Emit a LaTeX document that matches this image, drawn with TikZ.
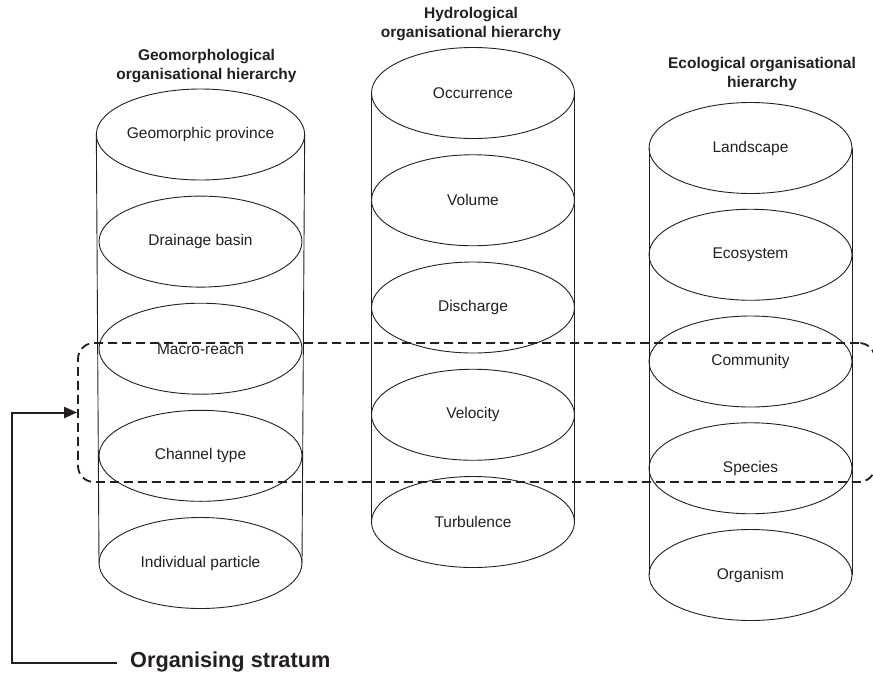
\documentclass[tikz,border=0pt]{standalone}
\usepackage{fontspec}
\setmainfont{Liberation Sans}
\usetikzlibrary{shapes.geometric,arrows.meta}
\definecolor{ink}{HTML}{231F20}
\begin{document}
\begin{tikzpicture}[x=1pt,y=-1pt,
  level/.style={ellipse,draw=ink,line width=0.9pt,minimum width=203pt,minimum height=91pt,
    inner sep=0pt,outer sep=0pt,text=ink,font=\fontsize{15.5}{18}\selectfont},
  side/.style={draw=ink,line width=0.9pt},
  heading/.style={align=center,text=ink,inner sep=0pt,font=\fontsize{15.5}{19.5}\selectfont\bfseries},
  stratumbox/.style={draw=ink,line width=1.8pt,dash pattern=on 9pt off 5pt,rounded corners=16pt},
  pointer/.style={draw=ink,line width=2pt,-{Triangle[length=13pt,width=11pt]}}]
\useasboundingbox (0,0) rectangle (873,678);

% Geomorphological column
\node[heading] (gtitle) at (206.5,66) {Geomorphological\\organisational hierarchy};
\node[level] (g1) at (200.5,134.5) {Geomorphic province};
\node[level] (g2) at (200.5,241.6) {Drainage basin};
\node[level] (g3) at (200.5,348.7) {Macro-reach};
\node[level] (g4) at (200.5,455.8) {Channel type};
\node[level] (g5) at (200.5,563) {Individual particle};
\draw[side] (g1.west) -- (g5.west);
\draw[side] (g1.east) -- (g5.east);

% Hydrological column
\node[heading] (htitle) at (471,24) {Hydrological\\organisational hierarchy};
\node[level] (h1) at (473,93) {Occurrence};
\node[level] (h2) at (473,200.25) {Volume};
\node[level] (h3) at (473,307.5) {Discharge};
\node[level] (h4) at (473,414.75) {Velocity};
\node[level] (h5) at (473,522) {Turbulence};
\draw[side] (h1.west) -- (h5.west);
\draw[side] (h1.east) -- (h5.east);

% Ecological column
\node[heading] (etitle) at (762,74) {Ecological organisational\\hierarchy};
\node[level] (e1) at (750.5,148) {Landscape};
\node[level] (e2) at (750.5,254.75) {Ecosystem};
\node[level] (e3) at (750.5,361.5) {Community};
\node[level] (e4) at (750.5,468.25) {Species};
\node[level] (e5) at (750.5,575) {Organism};
\draw[side] (e1.west) -- (e5.west);
\draw[side] (e1.east) -- (e5.east);

% Organising stratum band and its label
\node[stratumbox,minimum width=797pt,minimum height=139pt,inner sep=0pt] (band) at (476.5,412.5) {};
\node[anchor=west,inner sep=0pt,text=ink,font=\fontsize{21.7}{24}\selectfont\bfseries] (slabel) at (130,662) {Organising stratum};
\coordinate (c1) at (12,663);
\draw[pointer] ([xshift=-13pt]slabel.west |- c1) -- (c1) |- (band.west);
\end{tikzpicture}
\end{document}
